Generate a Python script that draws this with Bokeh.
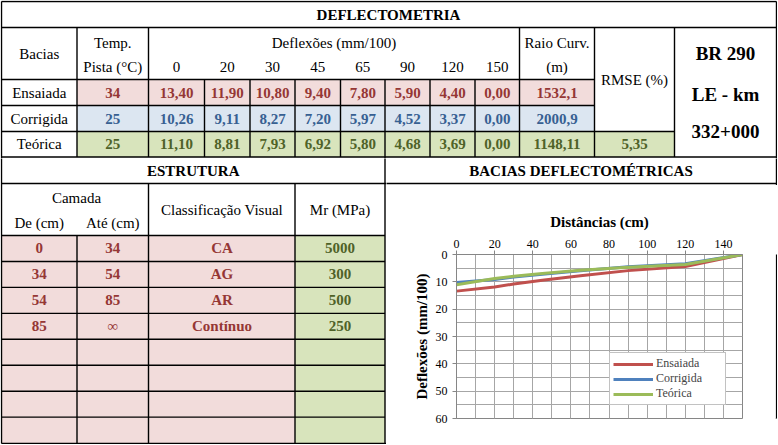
from bokeh.plotting import figure
from bokeh.models import Range1d, FixedTicker, Legend, LegendItem, ColumnDataSource
from bokeh.layouts import column, row
from bokeh.core.properties import value, field
from bokeh.embed import file_html
from bokeh.resources import INLINE

# ---------------- data ----------------
distances = [0, 20, 30, 45, 65, 90, 120, 150]
ensaiada = [13.40, 11.90, 10.80, 9.40, 7.80, 5.90, 4.40, 0.00]
corrigida = [10.26, 9.11, 8.27, 7.20, 5.97, 4.52, 3.37, 0.00]
teorica = [11.10, 8.81, 7.93, 6.92, 5.80, 4.68, 3.69, 0.00]
bacias = ["Ensaiada", "Corrigida", "Teórica"]
temp_pista = [34, 25, 25]
raio_curv = ["1532,1", "2000,9", "1148,11"]
rmse = "5,35"
rodovia = ["BR 290", "LE - km", "332+000"]
camada_de = ["0", "34", "54", "85"]
camada_ate = ["34", "54", "85", "∞"]
classificacao = ["CA", "AG", "AR", "Contínuo"]
mr_mpa = [5000, 300, 500, 250]
x_ticks = [0, 20, 40, 60, 80, 100, 120, 140]
x_grid = [0, 10, 20, 30, 40, 50, 60, 70, 80, 90, 100, 110, 120, 130, 140, 150]
y_ticks = [0, 10, 20, 30, 40, 50, 60]
y_grid = [0, 5, 10, 15, 20, 25, 30, 35, 40, 45, 50, 55, 60]

# ---------------- styles ----------------
FONT_NAME = "'Liberation Serif', 'Times New Roman', serif"
FONT = value(FONT_NAME)
RED_FILL, BLUE_FILL, GREEN_FILL = "#F2DCDB", "#DCE6F1", "#D8E4BC"
RED_TXT, BLUE_TXT, GREEN_TXT = "#953735", "#376092", "#4F6228"
LINE_COLORS = ["#C0504D", "#4F81BD", "#9BBB59"]
ROW_FILLS = [RED_FILL, BLUE_FILL, GREEN_FILL]
ROW_TXT = [RED_TXT, BLUE_TXT, GREEN_TXT]
AXIS_GRAY = "#868686"

# page is drawn 1:1 with the reference layout (777 x 444 px)
SX, SY = 1.0, 1.0


def px(x):
    return int(round(x * SX))


def py(y):
    return int(round(y * SY))


def fs(s):
    return f"{s * SX:.1f}px"


def fmt(v):
    return f"{v:.2f}".replace(".", ",")


# ---------------- table geometry (reference pixel layout) ----------------
L, R_, T, B_ = 1, 776, 1, 443
col_defl = [148, 204, 249.5, 294.5, 340, 384.5, 429.5, 474.5, 519]
row_top = [27, 79, 105, 131, 156.5]
low_rows = [235 + 25.95 * k for k in range(9)]

segs = []  # (x0, y0, x1, y1)
for y, x1 in [(T, R_), (27, R_), (79, 594), (105, 594), (131, 674), (156.5, R_), (183, R_), (B_, R_)]:
    segs.append((L, y, x1, y))
for y in low_rows[:-1]:
    segs.append((L, y, 384.5, y))
segs += [(L, T, L, B_), (R_, T, R_, B_)]
segs += [(76.5, 27, 76.5, 156.5), (76.5, 235, 76.5, B_)]
segs += [(148, 27, 148, 156.5), (148, 183, 148, B_)]
for x in col_defl[1:-1]:
    segs.append((x, 79, x, 156.5))
for x in [519, 594, 674]:
    segs.append((x, 27, x, 156.5))
segs += [(294.5, 183, 294.5, B_), (384.5, 156.5, 384.5, B_)]

quads = []  # (left, right, top, bottom, color)
for i in range(3):
    right = 674 if i == 2 else 594
    quads.append((76.5, right, row_top[i + 1], row_top[i + 2], ROW_FILLS[i]))
quads.append((L, 294.5, 235, B_, RED_FILL))
quads.append((294.5, 384.5, 235, B_, GREEN_FILL))

texts = {"A": [], "B": [], "C1": []}


def add(key, x, y, t, color="black", size=15, style="normal"):
    texts[key].append((x, y, t, color, fs(size), style))


add("A", 388, 14, "DEFLECTOMETRIA", style="bold")
add("A", 38.75, 53, "Bacias")
add("A", 112.25, 42, "Temp.")
add("A", 112.25, 66, "Pista (°C)")
add("A", 333.5, 42, "Deflexões (mm/100)")
add("A", 556.5, 42, "Raio Curv.")
add("A", 556.5, 66, "(m)")
add("A", 634, 79, "RMSE (%)")
for t, y in zip(rodovia, [53, 94, 131]):
    add("A", 725, y, t, size=19, style="bold")
col_centers = [(col_defl[i] + col_defl[i + 1]) / 2 for i in range(8)]
for cx, d in zip(col_centers, distances):
    add("A", cx, 66, str(d))
series = [ensaiada, corrigida, teorica]
for i in range(3):
    cy = (row_top[i + 1] + row_top[i + 2]) / 2
    add("A", 38.75, cy, bacias[i])
    add("A", 112.25, cy, str(temp_pista[i]), ROW_TXT[i], style="bold")
    for cx, v in zip(col_centers, series[i]):
        add("A", cx, cy, fmt(v), ROW_TXT[i], style="bold")
    add("A", 556.5, cy, raio_curv[i], ROW_TXT[i], style="bold")
add("A", 634, 143.75, rmse, GREEN_TXT, style="bold")

add("B", 192.75, 170, "ESTRUTURA", style="bold")
add("B", 76, 197, "Camada")
add("B", 38.75, 222, "De (cm)")
add("B", 112.25, 222, "Até (cm)")
add("B", 221.5, 209, "Classificação Visual")
add("B", 339.5, 209, "Mr (MPa)")
for k in range(4):
    cy = (low_rows[k] + low_rows[k + 1]) / 2
    add("B", 38.75, cy, camada_de[k], RED_TXT, style="bold")
    add("B", 112.25, cy, camada_ate[k], RED_TXT,
        style="normal" if camada_ate[k] == "∞" else "bold")
    add("B", 221.5, cy, classificacao[k], RED_TXT, style="bold")
    add("B", 339.5, cy, str(mr_mpa[k]), GREEN_TXT, style="bold")

add("C1", 580.5, 170, "BACIAS DEFLECTOMÉTRICAS", style="bold")


def piece(x0, x1, y0, y1, key=None):
    p = figure(width=px(x1) - px(x0), height=py(y1) - py(y0),
               x_range=Range1d(px(x0) / SX, px(x1) / SX),
               y_range=Range1d(py(y1) / SY, py(y0) / SY),
               x_axis_type=None, y_axis_type=None,
               output_backend="svg", toolbar_location=None, min_border=0,
               outline_line_color=None, background_fill_color="white",
               border_fill_color="white")
    p.quad(left=[q[0] for q in quads], right=[q[1] for q in quads],
           top=[q[2] for q in quads], bottom=[q[3] for q in quads],
           fill_color=[q[4] for q in quads], line_color=None)
    p.segment(x0=[s[0] for s in segs], y0=[s[1] for s in segs],
              x1=[s[2] for s in segs], y1=[s[3] for s in segs],
              line_color="black", line_width=1.4)
    if key and texts[key]:
        tt = texts[key]
        src = ColumnDataSource(dict(x=[t[0] for t in tt], y=[t[1] for t in tt],
                                    text=[t[2] for t in tt], color=[t[3] for t in tt],
                                    size=[t[4] for t in tt], style=[t[5] for t in tt]))
        p.text(x="x", y="y", text="text", source=src, text_color=field("color"),
               text_font_size=field("size"), text_font_style=field("style"),
               text_font=FONT, text_align="center", text_baseline="middle")
    return p


XE, YE = 777, 444  # page extent
A = piece(0, XE, 0, 158, "A")
Bp = piece(0, 386, 158, YE, "B")
C1 = piece(386, XE, 158, 185, "C1")
Rp = piece(775, XE, 185, 442)
Bt = piece(386, XE, 442, YE)

# ---------------- chart ----------------
chart = figure(width=px(775) - px(386), height=py(442) - py(185),
               x_range=Range1d(0, 150), y_range=Range1d(60, 0),
               x_axis_location="above", output_backend="svg", toolbar_location=None,
               min_border_left=px(456) - px(386), min_border_right=px(775) - px(742),
               min_border_top=py(254) - py(185), min_border_bottom=py(442) - py(418),
               outline_line_color=AXIS_GRAY, background_fill_color="white",
               border_fill_color="white")
renderers = []
for ys, c in zip(series, LINE_COLORS):
    renderers.append(chart.line(distances, ys, line_color=c, line_width=3))

xa = chart.xaxis[0]
ya = chart.yaxis[0]
xa.ticker = FixedTicker(ticks=x_ticks, minor_ticks=x_grid)
ya.ticker = FixedTicker(ticks=y_ticks, minor_ticks=y_grid)
xa.axis_label = "Distâncias (cm)"
ya.axis_label = "Deflexões (mm/100)"
for ax, st, lst in [(xa, 3, 7), (ya, 5, 3)]:
    ax.axis_line_color = AXIS_GRAY
    ax.major_tick_line_color = AXIS_GRAY
    ax.major_tick_out = 4
    ax.major_tick_in = 0
    ax.minor_tick_out = 0
    ax.minor_tick_in = 0
    ax.major_label_text_font = FONT_NAME
    ax.major_label_text_font_size = fs(12)
    ax.major_label_text_color = "black"
    ax.major_label_standoff = st
    ax.axis_label_text_font = FONT_NAME
    ax.axis_label_text_font_size = fs(15)
    ax.axis_label_text_font_style = "bold"
    ax.axis_label_text_color = "black"
    ax.axis_label_standoff = lst
for g in (chart.xgrid, chart.ygrid):
    g.grid_line_color = "#a6a6a6"
    g.minor_grid_line_color = "#a6a6a6"

legend = Legend(items=[LegendItem(label=n, renderers=[r]) for n, r in zip(bacias, renderers)],
                location=(px(609) - px(456), py(418) - py(404) - 1),
                border_line_color=AXIS_GRAY, background_fill_color="white",
                background_fill_alpha=1.0, label_text_font=FONT_NAME,
                label_text_font_size=fs(12), glyph_width=40, glyph_height=12,
                label_height=12, label_width=66, spacing=0, padding=3,
                label_standoff=3, margin=0)
chart.add_layout(legend)

layout = column(A, row(Bp, column(C1, row(chart, Rp), Bt)))

open("out.html", "w").write(file_html(layout, INLINE))
